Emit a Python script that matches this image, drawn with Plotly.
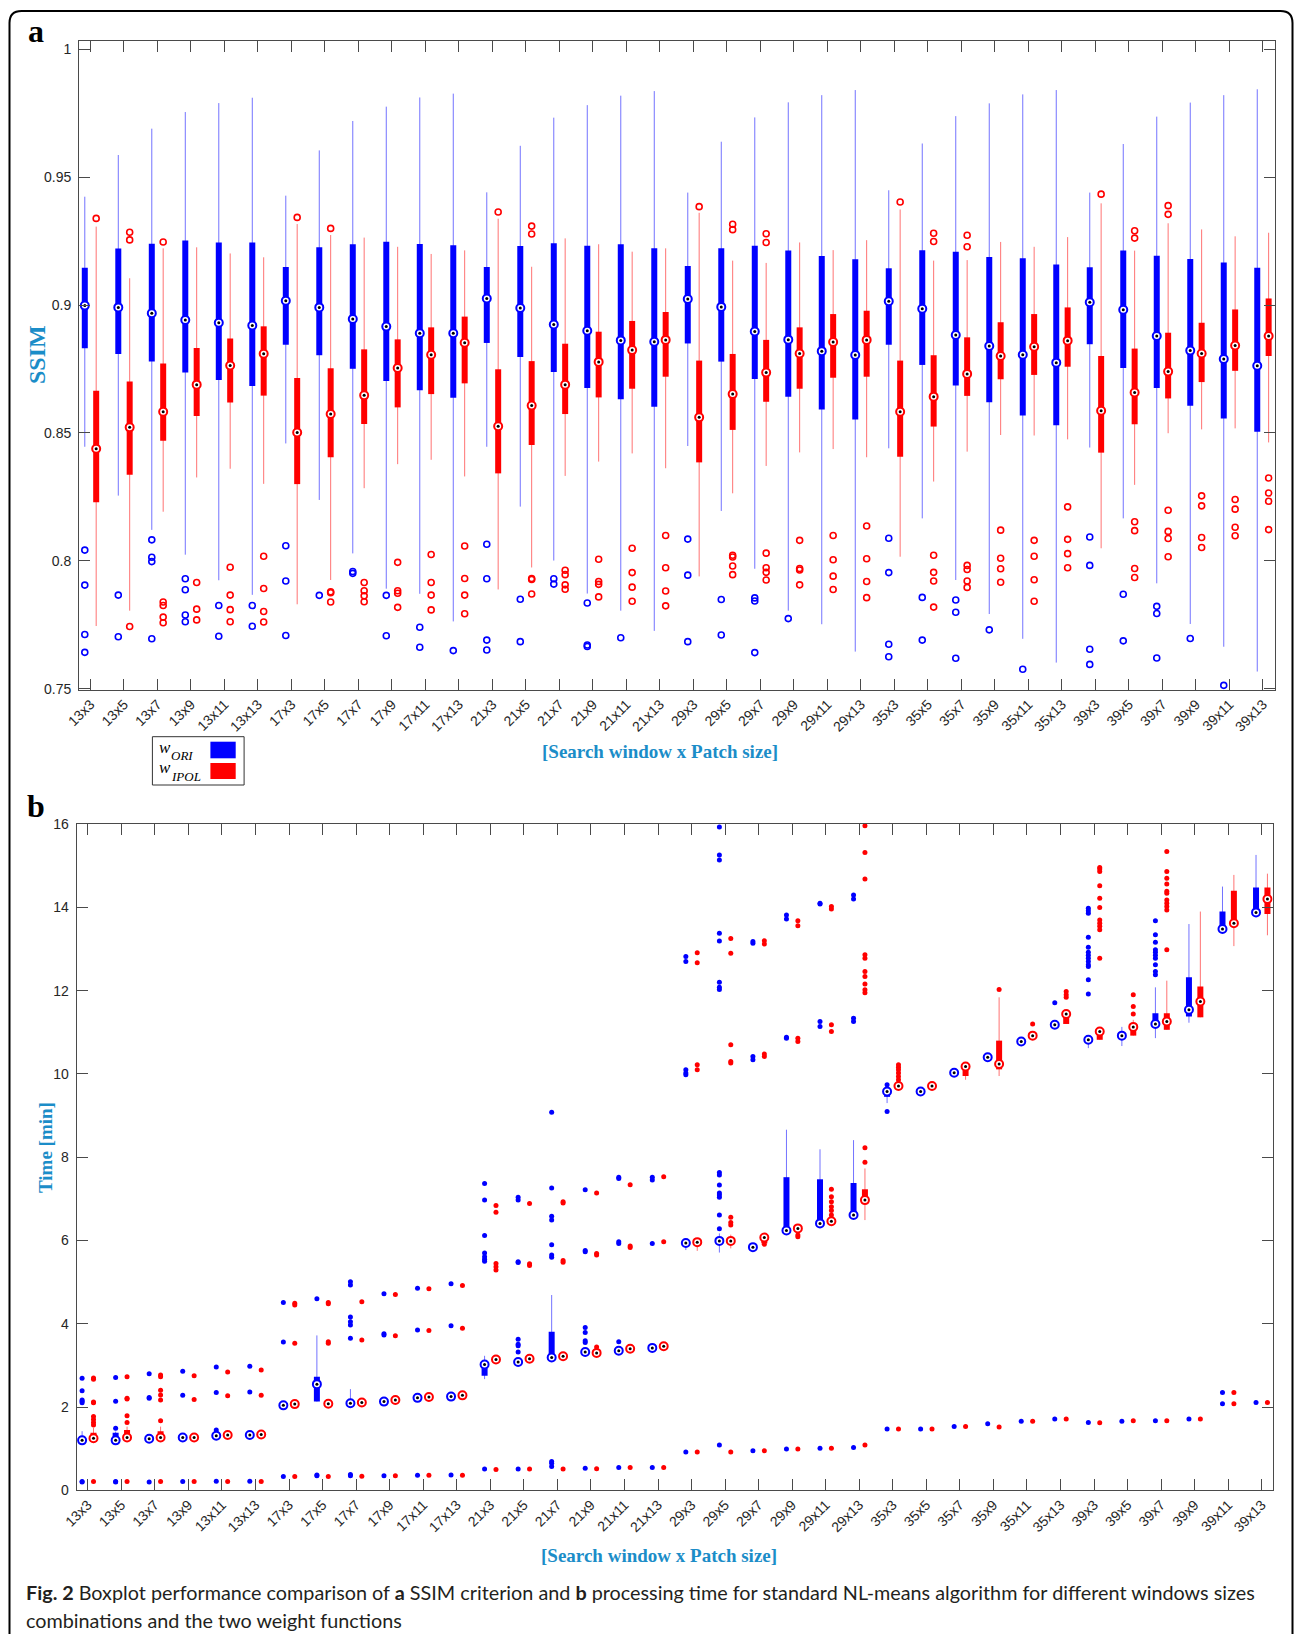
import plotly.graph_objects as go

W, H = 1295, 1634

categories = ["13x3", "13x5", "13x7", "13x9", "13x11", "13x13",
              "17x3", "17x5", "17x7", "17x9", "17x11", "17x13",
              "21x3", "21x5", "21x7", "21x9", "21x11", "21x13",
              "29x3", "29x5", "29x7", "29x9", "29x11", "29x13",
              "35x3", "35x5", "35x7", "35x9", "35x11", "35x13",
              "39x3", "39x5", "39x7", "39x9", "39x11", "39x13"]

# ---------------- panel a : SSIM ----------------
ssim_ori_lo = [.8446, .8255, .8121, .8024, .7924, .7867, .8459, .8238, .8029, .7891, .7871, .7763,
               .8446, .8212, .8001, .7872, .7805, .7726, .8449, .8195, .7969, .7805, .7752, .7645,
               .8440, .8166, .7925, .7792, .7695, .7602, .8443, .8166, .7912, .7753, .7664, .7567]
ssim_ori_q1 = [.8831, .8809, .8779, .8736, .8707, .8684, .8845, .8804, .8751, .8703, .8667, .8638,
               .8852, .8797, .8738, .8676, .8632, .8603, .8850, .8779, .8711, .8642, .8592, .8553,
               .8845, .8766, .8686, .8620, .8568, .8530, .8847, .8754, .8676, .8606, .8557, .8505]
ssim_ori_med = [.8998, .8991, .8968, .8942, .8931, .8920, .9017, .8991, .8946, .8916, .8890, .8890,
                .9026, .8989, .8924, .8900, .8862, .8857, .9024, .8993, .8897, .8865, .8820, .8805,
                .9015, .8986, .8883, .8840, .8806, .8775, .9011, .8982, .8879, .8822, .8789, .8763]
ssim_ori_q3 = [.9146, .9221, .9240, .9253, .9245, .9245, .9149, .9226, .9238, .9248, .9239, .9234,
               .9149, .9231, .9242, .9232, .9238, .9222, .9153, .9222, .9232, .9214, .9192, .9179,
               .9144, .9215, .9209, .9188, .9183, .9159, .9148, .9214, .9193, .9180, .9167, .9146]
ssim_ori_hi = [.9424, .9587, .9690, .9755, .9790, .9811, .9428, .9605, .9720, .9776, .9812, .9827,
               .9441, .9623, .9733, .9782, .9819, .9837, .9440, .9639, .9734, .9793, .9821, .9841,
               .9449, .9632, .9739, .9789, .9824, .9841, .9440, .9630, .9737, .9792, .9821, .9844]
ssim_ori_out = [[.8042, .7905, .7712, .7642], [.7866, .7703], [.8082, .8014, .7997, .7695],
                [.7930, .7887, .7788, .7762], [.7825, .7705], [.7825, .7744],
                [.8059, .7921, .7708], [.7865], [.7958, .7951], [.7865, .7707], [.7740, .7662], [.7649],
                [.8065, .7930, .7690, .7651], [.7850, .7684], [.7930, .7909], [.7835, .7671, .7665],
                [.7699], [],
                [.8085, .7944, .7684], [.7849, .7710], [.7855, .7843, .7641], [.7774], [], [],
                [.8088, .7954, .7674, .7625], [.7857, .7690], [.7847, .7799, .7619], [.7730], [.7576], [],
                [.8093, .7982, .7654, .7595], [.7869, .7687], [.7822, .7794, .7620], [.7696], [.7513], []]

ssim_ipol_lo = [.7745, .7805, .8192, .8326, .8360, .8301, .7830, .7925, .8284, .8378, .8395, .8330,
                .7888, .7974, .8332, .8388, .8420, .8362, .7939, .8264, .8371, .8424, .8437, .8405,
                .8016, .8310, .8427, .8492, .8490, .8475, .8049, .8297, .8499, .8514, .8518, .8463]
ssim_ipol_q1 = [.8229, .8337, .8470, .8566, .8619, .8646, .8300, .8405, .8535, .8600, .8652, .8694,
                .8342, .8453, .8574, .8639, .8673, .8720, .8385, .8512, .8622, .8673, .8716, .8720,
                .8407, .8525, .8645, .8710, .8727, .8759, .8423, .8534, .8635, .8699, .8743, .8801]
ssim_ipol_med = [.8438, .8522, .8583, .8689, .8764, .8810, .8502, .8574, .8647, .8754, .8806, .8853,
                 .8526, .8607, .8689, .8778, .8824, .8864, .8561, .8652, .8736, .8811, .8856, .8864,
                 .8583, .8642, .8731, .8801, .8837, .8861, .8587, .8658, .8740, .8811, .8842, .8879]
ssim_ipol_q3 = [.8665, .8701, .8772, .8832, .8869, .8917, .8715, .8753, .8827, .8866, .8913, .8955,
                .8749, .8781, .8849, .8896, .8938, .8973, .8783, .8809, .8864, .8913, .8965, .8978,
                .8783, .8804, .8874, .8933, .8965, .8991, .8801, .8830, .8892, .8931, .8983, .9026]
ssim_ipol_hi = [.9307, .9105, .9222, .9226, .9202, .9187, .9317, .9274, .9264, .9228, .9200, .9214,
                .9338, .9150, .9261, .9238, .9209, .9222, .9361, .9174, .9165, .9245, .9215, .9254,
                .9374, .9174, .9176, .9247, .9228, .9266, .9398, .9213, .9320, .9296, .9269, .9283]
ssim_ipol_out = [[.9339], [.9285, .9255, .7743], [.9247, .7839, .7825, .7780, .7758],
                 [.7915, .7811, .7769], [.7975, .7866, .7809, .7762], [.8018, .7892, .7802, .7761],
                 [.9343], [.9300, .7879, .7875, .7839], [.7915, .7883, .7863, .7840],
                 [.7994, .7883, .7873, .7818], [.8025, .7915, .7866, .7808], [.8058, .7931, .7866, .7793],
                 [.9364], [.9309, .9278, .7931, .7927, .7870], [.7963, .7946, .7906, .7889],
                 [.8006, .7919, .7908, .7859], [.8049, .7954, .7897, .7842], [.8099, .7973, .7882, .7824],
                 [.9385], [.9316, .9295, .8022, .8015, .7980, .7946], [.9279, .9245, .8030, .7973, .7955, .7925],
                 [.8080, .7970, .7964, .7906], [.8099, .8004, .7940, .7888], [.8136, .8008, .7919, .7856],
                 [.9403], [.9281, .9249, .8022, .7955, .7921, .7819], [.9273, .9228, .7982, .7966, .7921, .7896],
                 [.8120, .8010, .7969, .7916], [.8080, .8018, .7926, .7842], [.8211, .8084, .8028, .7973],
                 [.9434], [.9291, .9262, .8153, .8118, .7970, .7935], [.9389, .9355, .8198, .8115, .8087, .8016],
                 [.8254, .8215, .8091, .8052], [.8240, .8202, .8131, .8098], [.8324, .8265, .8233, .8122]]

# ---------------- panel b : time [min] ----------------
time_ori_lo = [1.17, 1.18, 1.24, 1.27, 1.31, 1.33, 2.04, 2.13, 2.09, 2.13, 2.22, 2.25,
               2.67, 3.08, 3.19, 3.32, 3.35, 3.42, 5.77, 5.71, 5.84, 6.24, 6.41, 6.61,
               9.30, 9.58, 9.93, 10.40, 10.78, 11.18, 10.62, 10.67, 10.86, 11.23, 13.42, 13.88]
time_ori_q1 = [1.19, 1.19, 1.24, 1.27, 1.31, 1.33, 2.04, 2.13, 2.09, 2.13, 2.22, 2.25,
               2.75, 3.08, 3.19, 3.32, 3.35, 3.42, 5.94, 5.99, 5.84, 6.24, 6.41, 6.61,
               9.45, 9.58, 9.95, 10.40, 10.78, 11.18, 10.82, 10.92, 11.20, 11.38, 13.42, 13.88]
time_ori_med = [1.20, 1.20, 1.24, 1.27, 1.31, 1.33, 2.04, 2.55, 2.09, 2.13, 2.22, 2.25,
                3.02, 3.08, 3.19, 3.32, 3.35, 3.42, 5.94, 5.99, 5.84, 6.24, 6.41, 6.61,
                9.58, 9.58, 10.03, 10.40, 10.78, 11.18, 10.82, 10.92, 11.20, 11.54, 13.48, 13.88]
time_ori_q3 = [1.30, 1.38, 1.24, 1.27, 1.31, 1.33, 2.04, 2.73, 2.09, 2.13, 2.22, 2.25,
               3.05, 3.08, 3.81, 3.32, 3.35, 3.42, 5.94, 5.99, 5.84, 7.52, 7.47, 7.38,
               9.62, 9.58, 10.03, 10.40, 10.78, 11.18, 10.82, 10.92, 11.46, 12.32, 13.90, 14.48]
time_ori_hi = [1.42, 1.41, 1.24, 1.27, 1.31, 1.33, 2.04, 3.72, 2.43, 2.13, 2.22, 2.25,
               3.23, 3.08, 4.69, 3.32, 3.35, 3.42, 6.01, 6.17, 5.84, 8.66, 8.19, 8.41,
               9.68, 9.58, 10.03, 10.40, 10.78, 11.18, 10.82, 11.13, 12.08, 13.60, 14.50, 15.26]
time_ori_out = [[0.20, 0.21, 2.10, 2.14, 2.17, 2.39, 2.69], [0.20, 0.21, 1.49, 2.14, 2.71],
                [0.20, 2.21, 2.23, 2.80], [0.21, 2.28, 2.86], [0.22, 1.45, 2.35, 2.96], [0.22, 2.36, 2.98],
                [0.33, 3.56, 4.51], [0.35, 0.37, 4.60], [0.35, 0.38, 3.65, 3.97, 4.05, 4.16, 4.93, 5.01],
                [0.35, 3.73, 3.76, 4.72], [0.36, 3.85, 4.85], [0.37, 3.95, 4.96],
                [0.51, 5.50, 5.55, 5.61, 5.70, 6.12, 6.97, 7.37],
                [0.51, 3.32, 3.47, 3.51, 3.63, 5.47, 5.49, 6.97, 7.04],
                [0.57, 0.65, 0.69, 5.60, 5.65, 5.90, 6.49, 6.58, 7.26, 9.08],
                [0.53, 3.55, 3.59, 3.79, 3.91, 5.73, 5.76, 7.22],
                [0.55, 3.57, 5.93, 5.97, 7.49, 7.52], [0.55, 5.93, 7.45, 7.52],
                [0.92, 9.98, 10.02, 10.10, 12.70, 12.82],
                [1.09, 6.28, 6.61, 7.04, 7.09, 7.14, 7.33, 7.57, 7.63, 12.03, 12.08, 12.20,
                 13.19, 13.38, 15.14, 15.26, 15.93],
                [0.95, 10.34, 10.42, 13.14, 13.18], [0.99, 10.86, 10.88, 13.72, 13.82],
                [1.01, 11.14, 11.26, 14.08, 14.10], [1.03, 11.26, 11.34, 14.20, 14.30],
                [1.47, 9.74, 9.10], [1.47], [1.53], [1.60], [1.66], [1.71, 11.71],
                [1.63, 11.92, 12.26, 12.58, 12.62, 12.70, 12.78, 12.85, 12.92, 13.04, 13.28, 13.86, 13.92, 13.98],
                [1.66], [1.67, 12.38, 12.46, 12.62, 12.78, 12.85, 12.92, 12.98, 13.16, 13.34, 13.68],
                [1.71], [2.08, 2.35], [2.11]]

time_ipol_lo = [1.20, 1.22, 1.25, 1.27, 1.33, 1.34, 2.07, 2.08, 2.11, 2.17, 2.24, 2.28,
                3.14, 3.16, 3.22, 3.30, 3.40, 3.46, 5.75, 5.81, 5.93, 6.29, 6.46, 6.49,
                9.71, 9.71, 9.86, 9.95, 10.92, 11.20, 10.82, 10.92, 11.06, 11.36, 13.07, 13.33]
time_ipol_q1 = [1.22, 1.24, 1.25, 1.27, 1.33, 1.34, 2.07, 2.08, 2.11, 2.17, 2.24, 2.28,
                3.14, 3.16, 3.22, 3.30, 3.40, 3.46, 5.96, 5.99, 5.93, 6.29, 6.46, 6.90,
                9.71, 9.71, 9.95, 10.11, 10.92, 11.20, 10.82, 10.92, 11.06, 11.36, 13.62, 13.84]
time_ipol_med = [1.25, 1.27, 1.27, 1.27, 1.33, 1.34, 2.07, 2.08, 2.11, 2.17, 2.24, 2.28,
                 3.14, 3.16, 3.22, 3.30, 3.40, 3.46, 5.96, 5.99, 6.07, 6.29, 6.46, 6.97,
                 9.71, 9.71, 10.18, 10.24, 10.92, 11.44, 11.02, 11.13, 11.26, 11.74, 13.62, 14.20]
time_ipol_q3 = [1.38, 1.45, 1.42, 1.27, 1.33, 1.34, 2.07, 2.08, 2.11, 2.17, 2.24, 2.28,
                3.14, 3.16, 3.22, 3.30, 3.40, 3.46, 5.96, 5.99, 6.07, 6.29, 6.46, 7.23,
                9.71, 9.71, 10.18, 10.80, 10.92, 11.50, 11.02, 11.20, 11.46, 12.10, 14.40, 14.48]
time_ipol_hi = [1.50, 1.53, 1.53, 1.27, 1.33, 1.34, 2.07, 2.08, 2.11, 2.17, 2.24, 2.28,
                3.14, 3.16, 3.22, 3.30, 3.40, 3.46, 6.05, 6.14, 6.07, 6.29, 6.46, 7.73,
                9.71, 9.71, 10.18, 11.84, 10.92, 11.50, 11.02, 11.30, 12.24, 13.90, 14.78, 14.81]
time_ipol_out = [[0.21, 1.57, 1.63, 1.70, 1.77, 2.10, 2.12, 2.67, 2.70], [0.21, 1.63, 1.79, 2.19, 2.21, 2.73],
                 [0.21, 1.67, 2.17, 2.29, 2.40, 2.73, 2.77], [0.21, 2.18, 2.75], [0.21, 2.27, 2.84],
                 [0.21, 2.28, 2.89],
                 [0.33, 3.53, 4.45, 4.49], [0.33, 3.53, 3.57, 4.48, 4.51], [0.34, 3.61, 4.53],
                 [0.35, 3.71, 4.70], [0.36, 3.84, 4.84], [0.36, 3.89, 4.92],
                 [0.50, 5.29, 5.37, 5.45, 6.68, 6.84], [0.51, 5.40, 5.44, 6.89], [0.51, 5.48, 5.52, 6.90, 6.93],
                 [0.52, 3.44, 5.65, 5.69, 7.14], [0.55, 5.83, 5.87, 7.34], [0.55, 5.97, 7.53],
                 [0.92, 10.10, 10.22, 12.67, 12.91],
                 [0.92, 6.37, 6.43, 6.56, 10.26, 10.30, 10.70, 12.90, 13.25],
                 [0.95, 5.91, 10.42, 10.48, 13.12, 13.20],
                 [0.99, 6.09, 6.13, 10.78, 10.86, 13.56, 13.68],
                 [1.01, 6.61, 6.72, 6.81, 6.93, 7.05, 7.23, 11.02, 11.18, 13.96, 14.02],
                 [1.09, 7.88, 8.23, 11.95, 12.02, 12.16, 12.34, 12.46, 12.78, 12.86, 14.68, 15.32, 15.96],
                 [1.47, 9.86, 9.94, 10.02, 10.10, 10.16, 10.22], [1.47], [1.53], [1.52, 12.03],
                 [1.66, 11.20], [1.71, 11.84, 11.90, 11.98],
                 [1.62, 12.78, 13.46, 13.55, 13.62, 13.70, 14.00, 14.22, 14.52, 14.86, 14.92, 14.96],
                 [1.67, 11.44, 11.62, 11.90],
                 [1.67, 12.98, 13.94, 14.02, 14.10, 14.18, 14.34, 14.39, 14.56, 14.70, 14.86, 15.34],
                 [1.71], [2.08, 2.35], [2.11]]

ssim_ticks = [0.75, 0.8, 0.85, 0.9, 0.95, 1.0]
ssim_ticktext = ["0.75", "0.8", "0.85", "0.9", "0.95", "1"]
time_ticks = [0, 2, 4, 6, 8, 10, 12, 14, 16]
time_ticktext = ["0", "2", "4", "6", "8", "10", "12", "14", "16"]

# ---------------- styling ----------------
BLUE, RED = "#0000ff", "#ff0000"
BLUE_W, RED_W = "#7373ff", "#ff7373"
TITLE_BLUE = "#1b8dc8"
AX_COL = "#4a4a4a"
TICK_FONT = dict(family="Liberation Sans, Arial, sans-serif", size=14, color="#262626")
OFF = 0.17


def px(xp):
    return xp / W


def py(yp):
    return 1 - yp / H


fig = go.Figure()


def add_series(xa, ya, off, lo, q1, med, q3, hi, outl, color, wcolor, filled_out):
    xs = [i + off for i in range(len(categories))]
    wx, wy, bx, by = [], [], [], []
    for x, a, b, c, d in zip(xs, lo, hi, q1, q3):
        wx += [x, x, None]
        wy += [a, b, None]
        bx += [x, x, None]
        by += [c, d, None]
    common = dict(xaxis=xa, yaxis=ya, hoverinfo="skip", showlegend=False)
    fig.add_trace(go.Scatter(x=wx, y=wy, mode="lines", line=dict(color=wcolor, width=1), **common))
    fig.add_trace(go.Scatter(x=bx, y=by, mode="lines", line=dict(color=color, width=6), **common))
    ox, oy = [], []
    for x, vals in zip(xs, outl):
        ox += [x] * len(vals)
        oy += vals
    if filled_out:
        mk = dict(symbol="circle", size=5, color=color, line=dict(width=0))
    else:
        mk = dict(symbol="circle-open", size=6, color=color, line=dict(width=1.6, color=color))
    fig.add_trace(go.Scatter(x=ox, y=oy, mode="markers", marker=mk, **common))
    fig.add_trace(go.Scatter(x=xs, y=med, mode="markers",
                             marker=dict(symbol="circle", size=8, color="white",
                                         line=dict(width=2, color=color)), **common))
    fig.add_trace(go.Scatter(x=xs, y=med, mode="markers",
                             marker=dict(symbol="circle", size=3, color="black", line=dict(width=0)),
                             **common))


add_series("x", "y", -OFF, ssim_ori_lo, ssim_ori_q1, ssim_ori_med, ssim_ori_q3, ssim_ori_hi,
           ssim_ori_out, BLUE, BLUE_W, False)
add_series("x", "y", OFF, ssim_ipol_lo, ssim_ipol_q1, ssim_ipol_med, ssim_ipol_q3, ssim_ipol_hi,
           ssim_ipol_out, RED, RED_W, False)
add_series("x2", "y2", -OFF, time_ori_lo, time_ori_q1, time_ori_med, time_ori_q3, time_ori_hi,
           time_ori_out, BLUE, BLUE_W, True)
add_series("x2", "y2", OFF, time_ipol_lo, time_ipol_q1, time_ipol_med, time_ipol_q3, time_ipol_hi,
           time_ipol_out, RED, RED_W, True)

axis_common = dict(showline=True, linecolor=AX_COL, linewidth=1, mirror="ticks", ticks="inside",
                   ticklen=11, tickcolor=AX_COL, tickwidth=1, showgrid=False, zeroline=False,
                   tickfont=TICK_FONT)

fig.update_layout(
    width=W, height=H, margin=dict(l=0, r=0, t=0, b=0),
    paper_bgcolor="white", plot_bgcolor="white", template="none",
    xaxis=dict(domain=[px(79.1), px(1275)], range=[-0.34, 35.36], tickmode="array",
               tickvals=list(range(len(categories))), ticktext=categories, tickangle=-45,
               anchor="y", **axis_common),
    yaxis=dict(domain=[py(689.7), py(40.7)], range=[0.7496, 1.0034], tickmode="array",
               tickvals=ssim_ticks, ticktext=ssim_ticktext, anchor="x", ticklabelstandoff=4,
               **axis_common),
    xaxis2=dict(domain=[px(76.6), px(1272.8)], range=[-0.334, 35.33], tickmode="array",
                tickvals=list(range(len(categories))), ticktext=categories, tickangle=-45,
                anchor="y2", **axis_common),
    yaxis2=dict(domain=[py(1490.3), py(823.7)], range=[0, 16.01], tickmode="array",
                tickvals=time_ticks, ticktext=time_ticktext, anchor="x2", ticklabelstandoff=4,
                **axis_common),
)

ann = []
serif_b = "Liberation Serif, Times New Roman, serif"


def add_text(x, y, text, size, color="black", family=serif_b, xanchor="center", yanchor="middle",
             angle=0):
    ann.append(dict(x=px(x), y=py(y), xref="paper", yref="paper", text=text, showarrow=False,
                    xanchor=xanchor, yanchor=yanchor, textangle=angle,
                    font=dict(family=family, size=size, color=color)))


add_text(36, 31, "<b>a</b>", 32)
add_text(36, 806, "<b>b</b>", 32)
add_text(37, 355, "<b>SSIM</b>", 24, TITLE_BLUE, angle=-90)
add_text(45.5, 1147.5, "<b>Time [min]</b>", 19, TITLE_BLUE, angle=-90)
add_text(660, 752, "<b>[Search window x Patch size]</b>", 19, TITLE_BLUE)
add_text(659, 1555, "<b>[Search window x Patch size]</b>", 19, TITLE_BLUE)

cap_font = "Lato, Open Sans, sans-serif"
add_text(24, 1592, "<b>Fig. 2</b> Boxplot performance comparison of <b>a</b> SSIM criterion and "
                   "<b>b</b> processing time for standard NL-means algorithm for different windows sizes",
         19.8, "#231f20", cap_font, xanchor="left")
add_text(24, 1620, "combinations and the two weight functions", 19.8, "#231f20", cap_font, xanchor="left")

# legend text (base letter and subscript as separate texts)
add_text(157, 747, "<i>w</i>", 17, "black", serif_b, xanchor="left")
add_text(169, 755, "<i>ORI</i>", 13, "black", serif_b, xanchor="left")
add_text(157, 768, "<i>w</i>", 17, "black", serif_b, xanchor="left")
add_text(169, 776, "<i>IPOL</i>", 13, "black", serif_b, xanchor="left")

fig.update_layout(annotations=ann)

shapes = []
# legend box and swatches
shapes.append(dict(type="rect", xref="paper", yref="paper", x0=px(152.4), x1=px(244.1),
                   y0=py(785), y1=py(736.7), line=dict(color="#333333", width=1), fillcolor="white"))
shapes.append(dict(type="rect", xref="paper", yref="paper", x0=px(210.4), x1=px(235.7),
                   y0=py(758.3), y1=py(741.7), line=dict(width=0), fillcolor=BLUE))
shapes.append(dict(type="rect", xref="paper", yref="paper", x0=px(210.4), x1=px(235.7),
                   y0=py(779), y1=py(763), line=dict(width=0), fillcolor=RED))

# rounded outer frame
x0, x1, y0, y1, r = 9.5, 1292.5, 11.0, 1700.0, 12.0
path = (f"M {px(x0)},{py(y1)} L {px(x0)},{py(y0 + r)} Q {px(x0)},{py(y0)} {px(x0 + r)},{py(y0)} "
        f"L {px(x1 - r)},{py(y0)} Q {px(x1)},{py(y0)} {px(x1)},{py(y0 + r)} L {px(x1)},{py(y1)}")
shapes.append(dict(type="path", xref="paper", yref="paper", path=path,
                   line=dict(color="black", width=2)))
fig.update_layout(shapes=shapes)

fig.write_html("out.html", config={"displayModeBar": False})
